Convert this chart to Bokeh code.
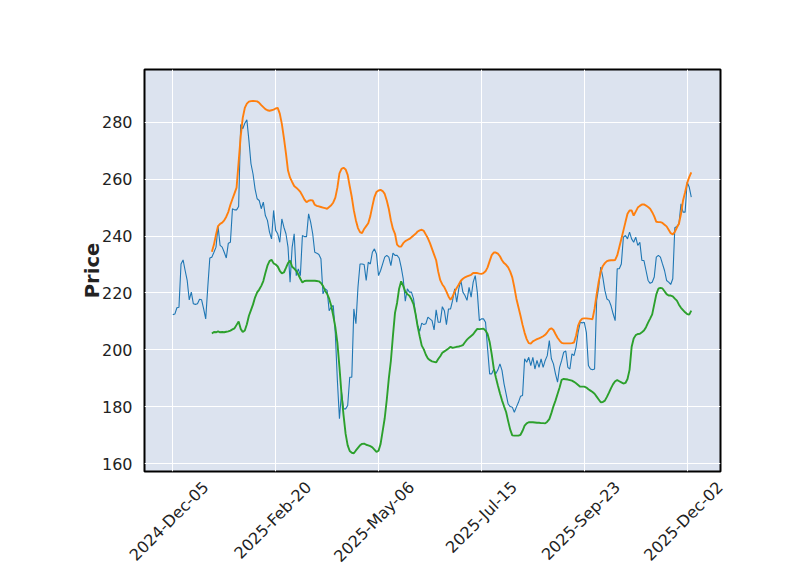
import math
from bokeh.plotting import figure
from bokeh.models import Range1d, FixedTicker, LinearAxis
from bokeh.embed import file_html
from bokeh.resources import INLINE

# ---- data (trading-day index based, as in an mplfinance chart) ----
close = [
    212.4, 212.6, 214.8, 215.0, 230.2, 231.6, 227.9, 224.4, 217.6, 220.3,
    216.2, 216.0, 216.2, 217.8, 217.6, 214.4, 210.9, 222.0, 232.3, 232.6,
    234.3, 236.1, 243.4, 236.7, 236.1, 234.3, 232.3, 237.5, 237.8, 249.6,
    249.2, 249.2, 250.4, 279.2, 277.7, 279.6, 280.8, 273.6, 265.4, 261.8,
    256.5, 253.1, 252.5, 249.6, 251.9, 247.2, 245.5, 241.4, 239.0, 249.0,
    242.0, 240.8, 237.8, 246.0, 243.1, 240.8, 236.1, 223.8, 236.0, 240.8,
    226.1, 228.5, 226.1, 240.2, 239.8, 239.8, 247.8, 244.9, 240.8, 234.3,
    234.0, 233.5, 232.0, 219.7, 221.5, 220.9, 213.8, 215.0, 215.6, 205.6,
    189.2, 175.8, 185.2, 179.3, 179.3, 180.5, 190.4, 190.4, 214.4, 209.2,
    222.0, 230.2, 230.2, 230.0, 224.4, 230.8, 230.2, 234.3, 235.5, 233.7,
    226.1, 227.9, 230.2, 232.6, 233.2, 232.6, 229.6, 234.0, 233.2, 233.2,
    232.3, 229.1, 225.0, 217.1, 221.5, 220.3, 220.3, 218.0, 212.7, 208.6,
    206.5, 209.4, 208.9, 209.2, 211.5, 210.9, 210.3, 207.0, 214.1, 209.7,
    209.7, 215.2, 213.8, 208.9, 214.4, 214.4, 217.4, 221.5, 216.8, 221.5,
    224.4, 220.3, 219.1, 217.4, 222.0, 218.5, 223.8, 226.1, 220.3, 210.3,
    210.9, 210.9, 209.7, 200.4, 191.6, 191.6, 193.3, 191.6, 193.0, 195.1,
    192.8, 188.1, 184.6, 181.0, 180.1, 179.9, 178.1, 179.9, 181.6, 183.7,
    184.0, 196.9, 195.7, 197.4, 194.5, 197.4, 193.3, 196.3, 193.9, 196.9,
    193.9, 196.3, 198.0, 203.3, 196.9, 195.1, 191.6, 188.7, 193.9, 196.3,
    199.2, 199.6, 193.9, 193.3, 198.6, 198.0, 201.0, 206.2, 209.7, 209.5,
    209.7, 206.2, 194.5, 193.3, 193.0, 193.3, 217.4, 222.0, 229.1, 225.6,
    220.9, 217.9, 217.4, 215.5, 212.7, 210.3, 228.5, 228.5, 230.2, 239.6,
    240.2, 239.0, 241.4, 239.0, 237.8, 239.6, 236.7, 237.8, 231.4, 231.4,
    227.9, 224.4, 223.4, 223.8, 225.6, 232.6, 233.2, 232.6, 230.2, 227.9,
    224.4, 223.8, 223.0, 225.0, 242.9, 243.4, 244.3, 251.3, 248.4, 248.4,
    258.9, 257.2, 253.7,
]

mav_start = 19
mav_orange = [
    234.5, 237.0, 240.5, 243.5, 244.3, 244.7, 245.5, 246.8, 248.5, 251.0,
    253.0, 255.0, 257.0, 266.0, 275.0, 281.5, 285.0, 286.5, 287.2, 287.4,
    287.5, 287.4, 287.3, 286.8, 286.0, 285.3, 284.6, 284.2, 284.0, 284.2,
    284.4, 284.8, 285.0, 283.0, 279.4, 274.5, 269.0, 263.0, 260.5, 259.0,
    257.6, 257.0, 256.3, 255.5, 254.2, 252.8, 251.9, 252.4, 252.6, 252.5,
    251.0, 250.6, 250.4, 250.2, 250.0, 249.8, 249.6, 250.2, 250.8, 251.8,
    253.5, 257.0, 262.0, 263.6, 264.0, 263.4, 261.5, 257.5, 253.7, 249.0,
    245.5, 242.8, 241.4, 241.0, 242.5, 243.5, 244.5, 247.0, 250.5, 253.7,
    255.5, 256.0, 256.2, 255.8, 254.8, 252.5, 249.5, 245.5, 242.5, 240.8,
    237.0, 236.3, 236.3, 237.5, 238.2, 238.6, 239.0, 239.6, 240.2, 240.8,
    241.6, 242.0, 242.2, 241.8, 240.5, 239.2, 237.5, 235.5, 233.5, 231.5,
    227.5, 224.5, 223.0, 222.0, 220.5, 218.8, 217.6, 218.8, 220.5, 221.8,
    223.0, 224.3, 225.0, 225.5, 225.8, 226.1, 226.4, 227.0, 227.0, 227.0,
    226.8, 226.7, 227.0, 227.6, 229.0, 231.2, 233.3, 234.2, 234.2, 233.8,
    232.9, 231.5, 230.5, 229.9, 229.0, 227.5, 225.5, 222.0, 218.0, 215.0,
    212.0, 208.8, 206.0, 203.8, 202.4, 202.2, 203.0, 203.4, 203.8, 204.1,
    204.4, 204.8, 205.3, 206.2, 207.2, 207.6, 207.0, 205.6, 204.3, 203.3,
    202.5, 202.3, 202.3, 202.3, 202.3, 202.4, 202.6, 205.0, 208.5, 210.2,
    211.0, 211.1, 211.1, 211.0, 210.9, 210.8, 214.5, 219.5, 224.0, 227.5,
    229.5, 230.5, 231.2, 231.4, 231.5, 231.5, 231.6, 233.2, 236.1, 239.0,
    241.9, 244.9, 247.8, 249.0, 249.0, 247.2, 248.6, 250.0, 250.6, 251.1,
    251.1, 250.7, 250.2, 249.6, 248.4, 246.9, 245.0, 244.9, 244.9, 244.6,
    244.0, 243.4, 242.2, 241.0, 240.6, 241.5, 243.0, 244.3, 247.8, 252.5,
    255.4, 258.6, 260.7, 262.4,
]
mav_green = [
    205.8, 206.3, 206.2, 206.5, 206.2, 206.3, 206.2, 206.4, 206.5, 206.8,
    207.2, 207.6, 208.8, 210.0, 207.4, 206.3, 206.8, 209.0, 212.0, 214.0,
    216.0, 218.5, 220.2, 221.2, 222.5, 224.2, 227.0, 229.6, 231.2, 231.7,
    230.4, 230.0, 229.3, 227.8, 226.9, 227.2, 228.8, 230.5, 231.4, 229.2,
    228.6, 227.8, 226.5, 225.0, 223.7, 224.2, 224.3, 224.3, 224.3, 224.3,
    224.3, 224.2, 224.1, 223.5, 222.5, 220.8, 219.7, 218.0, 215.5, 212.0,
    208.0, 202.5, 194.0, 184.5, 177.0, 170.5, 166.5, 164.5, 163.9, 163.7,
    164.7, 165.6, 166.5, 167.0, 167.1, 166.7, 166.5, 166.2, 165.8, 165.0,
    164.2, 164.6, 167.0, 171.5, 176.0, 182.5, 190.0, 196.2, 205.0, 213.0,
    216.5, 221.5, 224.1, 222.5, 220.5, 219.6, 219.0, 217.8, 216.1, 212.6,
    208.3, 204.8, 201.5, 200.2, 198.3, 197.0, 196.4, 196.0, 195.8, 195.6,
    196.8, 197.8, 199.0, 199.5, 200.0, 200.5, 201.1, 200.7, 200.9, 201.1,
    201.2, 201.4, 201.7, 202.7, 203.6, 204.3, 204.9, 205.5, 206.5, 207.4,
    207.3, 207.4, 207.5, 206.8, 205.6, 202.8, 198.5, 193.5, 190.4, 187.5,
    184.8, 182.3, 180.2, 178.2, 175.0, 172.0, 170.0, 169.9, 169.9, 169.9,
    170.2, 171.6, 173.4, 174.2, 174.6, 174.6, 174.6, 174.5, 174.4, 174.4,
    174.3, 174.3, 174.2, 174.8, 175.7, 177.8, 180.2, 182.2, 184.5, 186.8,
    189.5, 189.8, 189.7, 189.6, 189.4, 189.2, 188.8, 188.3, 187.7, 187.1,
    187.1, 187.1, 186.8, 186.2, 185.7, 185.2, 184.6, 183.6, 182.6, 181.6,
    181.7, 182.2, 183.5, 185.0, 186.6, 188.0, 189.0, 189.4, 189.0, 188.6,
    188.2, 188.4, 189.8, 193.0, 201.0, 204.0, 205.2, 205.6, 205.7, 206.2,
    206.8, 208.0, 209.6, 211.0, 212.5, 216.0, 219.5, 221.5, 221.8, 221.6,
    220.6, 219.6, 219.1, 219.1, 218.8, 218.0, 217.3, 215.9, 214.8, 214.0,
    213.2, 212.6, 212.4, 213.8,
]

tick_positions = [0, 50, 100, 150, 200, 250]
tick_labels = ["2024-Dec-05", "2025-Feb-20", "2025-May-06",
               "2025-Jul-15", "2025-Sep-23", "2025-Dec-02"]
y_ticks = [160, 180, 200, 220, 240, 260, 280]

x_close = list(range(len(close)))
x_orange = list(range(mav_start, mav_start + len(mav_orange)))
x_green = list(range(mav_start, mav_start + len(mav_green)))

TEXT = "#222222"
FONT = "DejaVu Sans"
X0, X1 = -13.75, 266.2
LABEL_SHIFT = 16.0  # rotated labels sit centred on their tick, Bokeh end-aligns them

p = figure(width=784, height=575, output_backend="svg", toolbar_location=None,
           x_range=Range1d(X0, X1), y_range=Range1d(157.3, 298.5),
           min_border_left=144, min_border_right=64,
           min_border_top=69, min_border_bottom=104)

p.background_fill_color = "#DCE3EF"
p.border_fill_color = "white"
p.outline_line_color = "black"
p.outline_line_width = 2

p.xaxis.visible = False
p.xgrid.ticker = FixedTicker(ticks=tick_positions)
p.xgrid.grid_line_color = "white"
p.xgrid.grid_line_width = 1

p.extra_x_ranges = {"lbl": Range1d(X0 - LABEL_SHIFT, X1 - LABEL_SHIFT)}
xlab = LinearAxis(x_range_name="lbl",
                  ticker=FixedTicker(ticks=tick_positions),
                  major_label_overrides={t: s for t, s in zip(tick_positions, tick_labels)},
                  major_label_orientation=math.pi / 4,
                  axis_line_color=None, major_tick_line_color=None,
                  minor_tick_line_color=None,
                  major_tick_out=0, major_tick_in=0,
                  minor_tick_out=0, minor_tick_in=0,
                  major_label_standoff=13,
                  major_label_text_font=FONT,
                  major_label_text_font_size="16px",
                  major_label_text_color=TEXT)
p.add_layout(xlab, "below")

p.yaxis.ticker = FixedTicker(ticks=y_ticks)
p.ygrid.grid_line_color = "white"
p.ygrid.grid_line_width = 1
p.yaxis.axis_line_color = None
p.yaxis.major_tick_line_color = None
p.yaxis.minor_tick_line_color = None
p.yaxis.major_label_text_font = FONT
p.yaxis.major_label_text_font_size = "16px"
p.yaxis.major_label_text_color = TEXT
p.yaxis.major_label_standoff = 6
p.yaxis.axis_label = "Price"
p.yaxis.axis_label_text_font = FONT
p.yaxis.axis_label_text_font_style = "bold"
p.yaxis.axis_label_text_font_size = "19.5px"
p.yaxis.axis_label_text_color = TEXT
p.yaxis.axis_label_standoff = -5

p.line(x_close, close, line_color="#1f77b4", line_width=1.1)
p.line(x_orange, mav_orange, line_color="#ff7f0e", line_width=1.9)
p.line(x_green, mav_green, line_color="#2ca02c", line_width=1.9)

open("out.html", "w").write(file_html(p, INLINE))
